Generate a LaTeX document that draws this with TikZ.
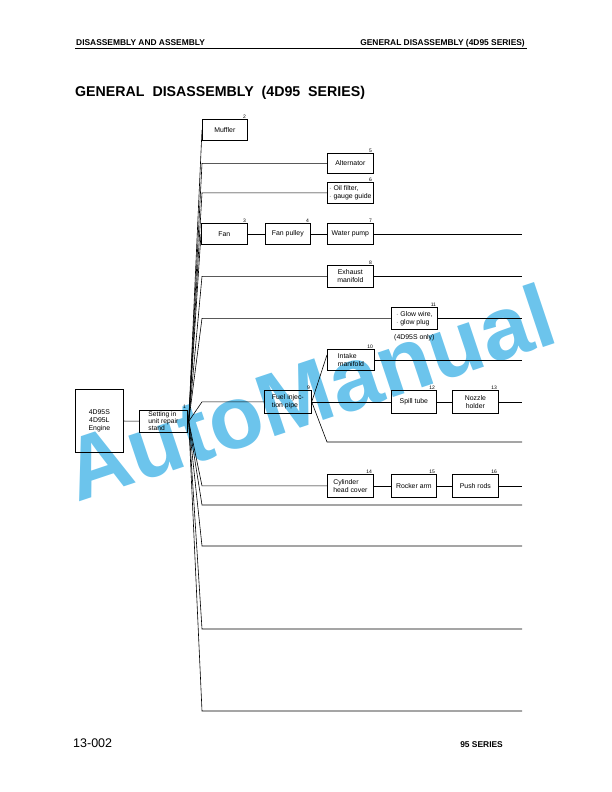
\documentclass[tikz,border=0pt]{standalone}
\usepackage{fontspec}
\setmainfont{Liberation Sans}
\begin{document}
\begin{tikzpicture}[x=1pt,y=-1pt,
  box/.style={draw, line width=0.7pt, inner sep=1pt, font=\fontsize{6.9}{8}\selectfont, align=center, anchor=north west},
  lbox/.style={box, align=left},
  num/.style={font=\fontsize{5}{5}\selectfont, inner sep=0.5pt, anchor=south east},
  ln/.style={line width=0.6pt},
  hdr/.style={font=\fontsize{8.4}{9}\selectfont\bfseries, inner sep=0pt}]
\useasboundingbox (0,0) rectangle (612,792);
% watermark
\node[text={rgb,255:red,108;green,196;blue,236}, rotate=18.5, font=\fontsize{89}{89}\selectfont\bfseries, inner sep=0pt] (wm) at (309,392) {AutoManual};
% header
\node[hdr, anchor=base west] (hl) at (76,46) {DISASSEMBLY AND ASSEMBLY};
\node[hdr, anchor=base east] (hr) at (525,46) {GENERAL DISASSEMBLY (4D95 SERIES)};
\coordinate (rl) at (75,48.5);
\coordinate (rr) at (527,48.5);
\draw[line width=1.3pt] (rl) -- (rr);
\node[font=\fontsize{14.2}{15}\selectfont\bfseries, inner sep=0pt, anchor=base west] (title) at (75,96) {GENERAL\ \ DISASSEMBLY\ \ (4D95\ \ SERIES)};
% footer
\node[font=\fontsize{12.5}{13}\selectfont, inner sep=0pt, anchor=base west] (pg) at (73,747) {13-002};
\node[hdr, anchor=base east] (ser) at (503,747) {95 SERIES};
% main boxes
\node[box, minimum width=48pt, minimum height=63pt, font=\fontsize{6.9}{8.2}\selectfont] (eng) at (75,389) {4D95S\\4D95L\\Engine};
\node[lbox, minimum width=48pt, minimum height=22pt, inner sep=0.5pt, font=\fontsize{6.7}{7}\selectfont] (set) at (139,410) {Setting in\\unit repair\\stand};
\node[num] (n1) at ([xshift=-1pt,yshift=1pt]set.north east) {1};
\draw[ln] (eng) -- (set);
\coordinate (fan) at ([xshift=1pt]set.east);
\coordinate (bx) at (202,0);
\coordinate (ex) at (522,0);
% row: muffler
\node[box, minimum width=45pt, minimum height=21pt] (muf) at (202,119) {Muffler};
\node[num] (n2) at ([xshift=-1pt]muf.north east) {2};
\draw[ln] (fan) -- (muf.west);
% alternator
\node[box, minimum width=46pt, minimum height=20pt] (alt) at (327,153) {Alternator};
\node[num] (n5) at ([xshift=-1pt]alt.north east) {5};
\draw[ln] (fan) -- (bx |- alt.west) -- (alt.west);
% oil filter
\node[lbox, minimum width=46pt, minimum height=21pt] (oil) at (327,182) {$\cdot$ Oil filter,\\$\cdot$ gauge guide};
\node[num] (n6) at ([xshift=-1pt]oil.north east) {6};
\draw[ln] (fan) -- (bx |- oil.west) -- (oil.west);
% fan row
\node[box, minimum width=46pt, minimum height=21pt] (fanb) at (201,223) {Fan};
\node[num] (n3) at ([xshift=-1pt]fanb.north east) {3};
\node[box, minimum width=45pt, minimum height=21pt] (pul) at (265,223) {Fan pulley};
\node[num] (n4) at ([xshift=-1pt]pul.north east) {4};
\node[box, minimum width=46pt, minimum height=21pt] (wp) at (327,223) {Water pump};
\node[num] (n7) at ([xshift=-1pt]wp.north east) {7};
\draw[ln] (fan) -- (fanb.west);
\draw[ln] (fanb) -- (pul);
\draw[ln] (pul) -- (wp);
\draw[ln] (wp.east) -- (ex |- wp.east);
% exhaust
\node[box, minimum width=46pt, minimum height=22pt] (exh) at (327,265) {Exhaust\\manifold};
\node[num] (n8) at ([xshift=-1pt]exh.north east) {8};
\draw[ln] (fan) -- (bx |- exh.west) -- (exh.west);
\draw[ln] (exh.east) -- (ex |- exh.east);
% glow
\node[lbox, minimum width=46pt, minimum height=22pt] (glow) at (391,307) {$\cdot$ Glow wire,\\$\cdot$ glow plug};
\node[num] (n11) at ([xshift=-1pt]glow.north east) {11};
\node[font=\fontsize{6.9}{7}\selectfont, inner sep=0pt, anchor=north] (only) at ([yshift=-5pt]glow.south) {(4D95S only)};
\draw[ln] (fan) -- (bx |- glow.west) -- (glow.west);
\draw[ln] (glow.east) -- (ex |- glow.east);
% fuel injection
\node[lbox, minimum width=47pt, minimum height=23pt] (fuel) at (264,390) {Fuel injec-\\tion pipe};
\node[num] (n9) at ([xshift=-1pt]fuel.north east) {9};
\draw[ln] (fan) -- (bx |- fuel.west) -- (fuel.west);
\node[lbox, minimum width=47pt, minimum height=21pt] (intk) at (327,349) {Intake\\manifold};
\node[num] (n10) at ([xshift=-1pt]intk.north east) {10};
\draw[ln] (fuel.east) -- ([yshift=5pt]intk.west);
\draw[ln] (intk.east) -- (ex |- intk.east);
\node[box, minimum width=45pt, minimum height=23pt] (spill) at (391,390) {Spill tube};
\node[num] (n12) at ([xshift=-1pt]spill.north east) {12};
\node[box, minimum width=46pt, minimum height=23pt] (noz) at (452,390) {Nozzle\\holder};
\node[num] (n13) at ([xshift=-1pt]noz.north east) {13};
\draw[ln] (fuel.east) -- (spill.west);
\draw[ln] (spill) -- (noz);
\draw[ln] (noz.east) -- (ex |- noz.east);
\coordinate (lowb) at (327,442);
\coordinate (lowe) at (522,442);
\draw[ln] (fuel.east) -- (lowb) -- (lowe);
% cylinder row
\node[lbox, minimum width=46pt, minimum height=23pt] (cyl) at (327,474) {Cylinder\\head cover};
\node[num] (n14) at ([xshift=-1pt]cyl.north east) {14};
\node[box, minimum width=45pt, minimum height=23pt] (rock) at (391,474) {Rocker arm};
\node[num] (n15) at ([xshift=-1pt]rock.north east) {15};
\node[box, minimum width=46pt, minimum height=23pt] (push) at (452,474) {Push rods};
\node[num] (n16) at ([xshift=-1pt]push.north east) {16};
\draw[ln] (fan) -- (bx |- cyl.west) -- (cyl.west);
\draw[ln] (cyl) -- (rock);
\draw[ln] (rock) -- (push);
\draw[ln] (push.east) -- (ex |- push.east);
% empty rows
\foreach \yy/\nm in {505/ra, 546/rb, 629/rc, 711/rd} {
  \coordinate (\nm) at (522,\yy);
  \draw[ln] (fan) -- (bx |- \nm) -- (\nm);
}
\end{tikzpicture}
\end{document}
